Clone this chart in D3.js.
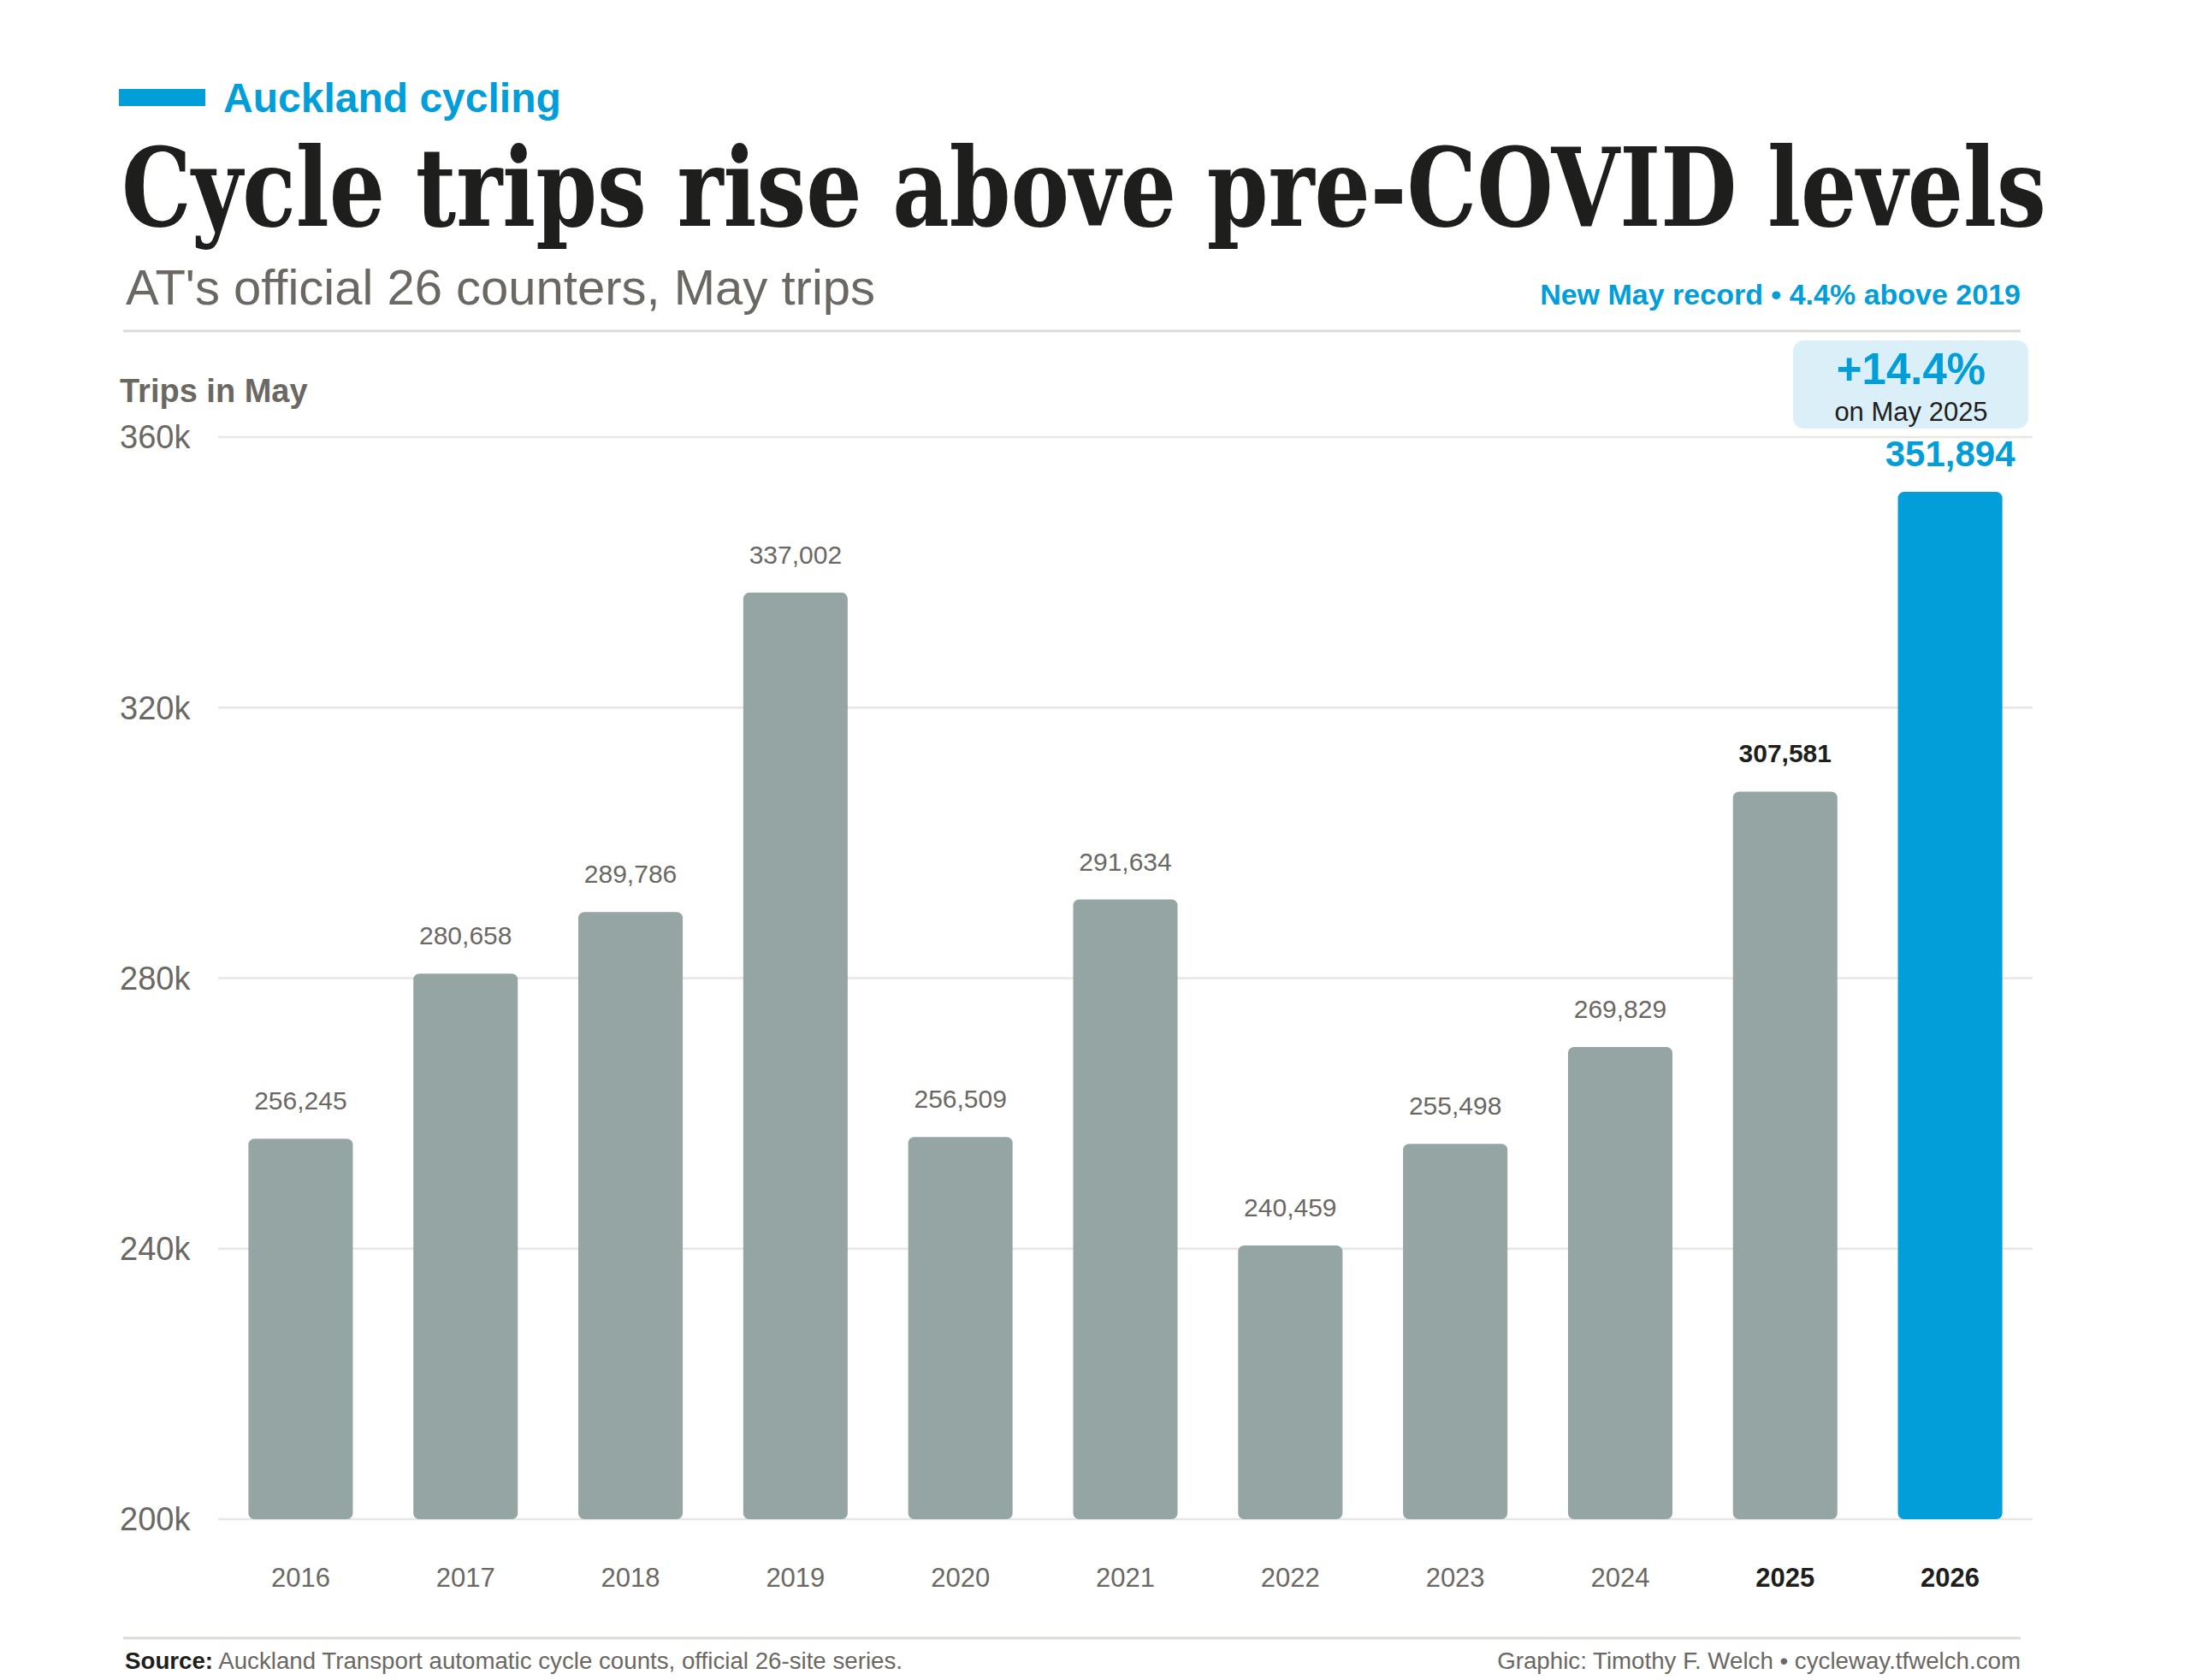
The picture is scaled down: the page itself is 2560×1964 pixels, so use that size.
<!DOCTYPE html>
<html lang="en">
<head>
<meta charset="utf-8">
<title>Auckland cycling: May trips</title>
<script src="https://cdn.jsdelivr.net/npm/d3@7"></script>
<style>
  body { margin: 0; background: #fff; }
  svg text { font-family: "Liberation Sans", Arial, Helvetica, sans-serif; }
</style>
</head>
<body>
<script>
// data
var years = ["2016", "2017", "2018", "2019", "2020", "2021", "2022", "2023", "2024", "2025", "2026"];
var trips = [256245, 280658, 289786, 337002, 256509, 291634, 240459, 255498, 269829, 307581, 351894];
var yTicks = [200000, 240000, 280000, 320000, 360000];
var boldYears = ["2025", "2026"];

var W = 2560, H = 1964;
var grey = "#6b6864", blue = "#029ed9", barGrey = "#95a5a4";

var svg = d3.select("body").append("svg")
    .attr("width", W)
    .attr("height", H);

var x = d3.scaleBand()
    .domain(years)
    .range([255, 2376])
    .paddingInner(0.367)
    .paddingOuter(0.1835);

var y = d3.scaleLinear()
    .domain([200000, 360000])
    .range([1776, 511]);

// header
svg.append("rect").attr("x", 139).attr("y", 104).attr("width", 101).attr("height", 20).attr("fill", blue);
svg.append("text").attr("x", 261).attr("y", 131)
    .attr("font-size", 48).attr("font-weight", "bold").attr("fill", blue)
    .text("Auckland cycling");

// title: condensed heavy serif, sized to span the same width as the reference
var titleW = 2250;
var title = svg.append("text").attr("x", 142).attr("y", 264)
    .style("font-family", "'DejaVu Serif Condensed', 'DejaVu Serif', serif")
    .style("font-stretch", "condensed")
    .attr("font-size", 128).attr("font-weight", "bold").attr("fill", "#1e1e1c")
    .text("Cycle trips rise above pre-COVID levels");
var natW = title.node().getComputedTextLength();
if (natW > titleW) {
    // shrink the font so it fits, then stretch vertically back to the cap height
    var fs = 128 * titleW / natW;
    title.attr("font-size", fs)
        .attr("transform", "translate(142,264) scale(1," + (128 / fs) + ") translate(-142,-264)");
}

svg.append("text").attr("x", 147).attr("y", 356)
    .attr("font-size", 58).attr("fill", grey)
    .text("AT's official 26 counters, May trips");

svg.append("text").attr("x", 2362).attr("y", 356)
    .attr("text-anchor", "end")
    .attr("font-size", 34).attr("font-weight", "bold").attr("fill", blue)
    .text("New May record \u2022 4.4% above 2019");

svg.append("line").attr("x1", 144).attr("x2", 2362).attr("y1", 387).attr("y2", 387)
    .attr("stroke", "#dcdad6").attr("stroke-width", 3);

svg.append("text").attr("x", 140).attr("y", 470)
    .attr("font-size", 38).attr("font-weight", "bold").attr("fill", grey)
    .text("Trips in May");

// gridlines + y labels
var yAxis = svg.append("g").attr("class", "y-axis");
yAxis.selectAll("line").data(yTicks).enter().append("line")
    .attr("x1", x.range()[0]).attr("x2", x.range()[1])
    .attr("y1", function(d) { return y(d); })
    .attr("y2", function(d) { return y(d); })
    .attr("stroke", "#e8e6e3").attr("stroke-width", 2.5);
yAxis.selectAll("text").data(yTicks).enter().append("text")
    .attr("x", 140)
    .attr("y", function(d) { return y(d); })
    .attr("dy", "0.35em")
    .attr("font-size", 38).attr("fill", grey)
    .text(function(d) { return (d / 1000) + "k"; });

// bars
var data = years.map(function(yr, i) { return {year: yr, value: trips[i]}; });

svg.append("g").selectAll("rect").data(data).enter().append("rect")
    .attr("x", function(d) { return x(d.year); })
    .attr("y", function(d) { return y(d.value); })
    .attr("width", x.bandwidth())
    .attr("height", function(d) { return y(200000) - y(d.value); })
    .attr("rx", 7)
    .attr("fill", function(d) { return d.year === "2026" ? blue : barGrey; });

// value labels
var fmt = d3.format(",");
svg.append("g").selectAll("text").data(data).enter().append("text")
    .attr("x", function(d) { return x(d.year) + x.bandwidth() / 2; })
    .attr("y", function(d) { return y(d.value) - (d.year === "2026" ? 30 : 34); })
    .attr("text-anchor", "middle")
    .attr("font-size", function(d) { return d.year === "2026" ? 42 : 30; })
    .attr("font-weight", function(d) { return d.year === "2026" || d.year === "2025" ? "bold" : "normal"; })
    .attr("fill", function(d) {
        if (d.year === "2026") return blue;
        if (d.year === "2025") return "#1e1e1c";
        return grey;
    })
    .text(function(d) { return fmt(d.value); });

// x labels
svg.append("g").selectAll("text").data(years).enter().append("text")
    .attr("x", function(d) { return x(d) + x.bandwidth() / 2; })
    .attr("y", 1855)
    .attr("text-anchor", "middle")
    .attr("font-size", 31)
    .attr("font-weight", function(d) { return boldYears.indexOf(d) >= 0 ? "bold" : "normal"; })
    .attr("fill", function(d) { return boldYears.indexOf(d) >= 0 ? "#1e1e1c" : grey; })
    .text(function(d) { return d; });

// callout over the 2026 bar
var cx = 2234;
svg.append("rect").attr("x", 2096).attr("y", 398).attr("width", 275).attr("height", 103)
    .attr("rx", 13).attr("fill", "#dbeff9");
svg.append("text").attr("x", cx).attr("y", 449).attr("text-anchor", "middle")
    .attr("font-size", 51).attr("font-weight", "bold").attr("fill", blue)
    .text("+14.4%");
svg.append("text").attr("x", cx).attr("y", 492).attr("text-anchor", "middle")
    .attr("font-size", 31).attr("fill", "#1e1e1c")
    .text("on May 2025");

// footer
svg.append("line").attr("x1", 144).attr("x2", 2362).attr("y1", 1915).attr("y2", 1915)
    .attr("stroke", "#dcdad6").attr("stroke-width", 3);

var src = svg.append("text").attr("x", 146).attr("y", 1951)
    .attr("font-size", 27.7).attr("fill", grey);
src.append("tspan").attr("font-weight", "bold").attr("fill", "#1e1e1c").text("Source:");
src.append("tspan").text(" Auckland Transport automatic cycle counts, official 26-site series.");

svg.append("text").attr("x", 2362).attr("y", 1951)
    .attr("text-anchor", "end")
    .attr("font-size", 27.7).attr("fill", grey)
    .text("Graphic: Timothy F. Welch \u2022 cycleway.tfwelch.com");
</script>
</body>
</html>
